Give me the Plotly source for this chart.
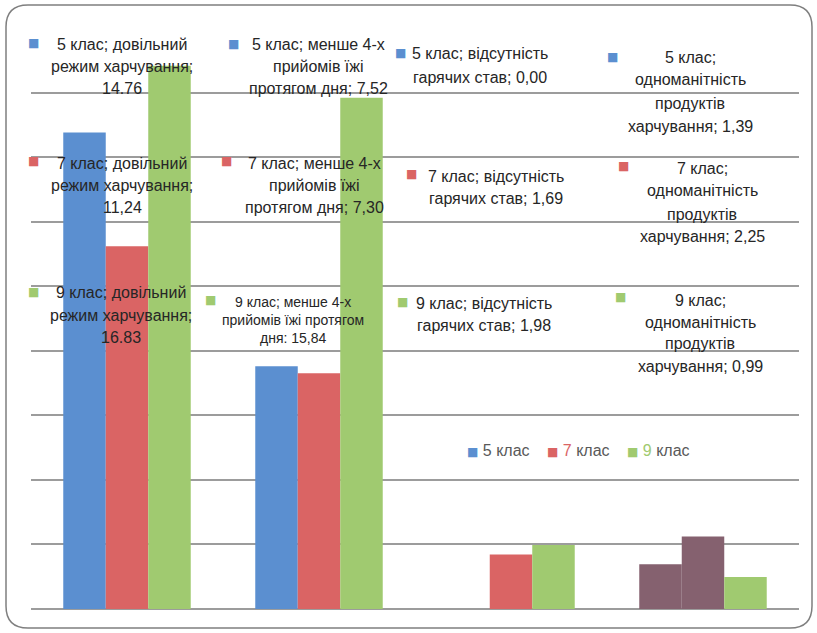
import plotly.graph_objects as go

# ---------------- data ----------------
categories = ["довільний режим харчування",
              "менше 4-х прийомів їжі протягом дня",
              "відсутність гарячих став",
              "одноманітність продуктів харчування"]
series = ["5 клас", "7 клас", "9 клас"]
values_5 = [14.76, 7.52, 0.00, 1.39]
values_7 = [11.24, 7.30, 1.69, 2.25]
values_9 = [16.83, 15.84, 1.98, 0.99]
all_values = [values_5, values_7, values_9]
# decimal separators as printed on the original labels
label_seps = [[".", ",", ",", ","],
              [",", ",", ",", ","],
              [".", ",", ",", ","]]

# ---------------- styling ----------------
W, H = 817, 633
L, R, T, B = 31, 18, 28, 24
PW, PH = W - L - R, H - T - B
colors = ["#5B8FD0", "#DA6464", "#A0CA70"]
odd_color = "#85616F"  # rendering artefact colour in last group
font_family = "Liberation Sans, Arial, sans-serif"


def px(xp):
    return (xp - L) / PW


def py(yp):
    return (H - B - yp) / PH


fig = go.Figure()
for i, (name, vals) in enumerate(zip(series, all_values)):
    cols = [colors[i]] * len(vals)
    if i < 2:
        cols[-1] = odd_color
    fig.add_trace(go.Bar(
        x=categories, y=vals, name=name,
        marker=dict(color=cols, line=dict(width=0)),
        showlegend=False,
    ))

# ---------------- label text layout ----------------
def lines_for(s, c, vtxt):
    if c == 0:
        return [f"{s}; довільний", "режим харчування;", vtxt]
    if c == 1:
        if s == "9 клас":
            return [f"{s}; менше 4-х", "прийомів їжі протягом", f"дня: {vtxt}"]
        return [f"{s}; менше 4-х", "прийомів їжі", f"протягом дня; {vtxt}"]
    if c == 2:
        return [f"{s}; відсутність", f"гарячих став; {vtxt}"]
    return [f"{s};", "одноманітність", "продуктів", f"харчування; {vtxt}"]

# (center x, first line y, line height, square x, square y, font size) per row/col
label_pos = [
    [(122, 44, 22, 33, 43, 16), (318, 44, 22, 233, 44, 16),
     (480, 54, 23, 400, 53, 16), (690, 57, 23, 612, 57, 16)],
    [(122, 163, 22, 33, 161, 16), (314, 163, 22, 226, 161, 16),
     (496, 176, 22, 411, 174, 16), (702, 168, 23, 623, 166, 16)],
    [(121, 293, 22, 33, 292, 16), (293, 302, 18, 210, 300, 14),
     (484, 303, 22, 402, 302, 16), (700, 300, 22, 620, 297, 16)],
]

annotations = []
for r, (s, vals) in enumerate(zip(series, all_values)):
    for c, v in enumerate(vals):
        vtxt = f"{v:.2f}".replace(".", label_seps[r][c])
        cx, y0, lh, sx, sy, fs = label_pos[r][c]
        for k, line in enumerate(lines_for(s, c, vtxt)):
            annotations.append(dict(
                xref="paper", yref="paper", x=px(cx), y=py(y0 + k * lh),
                xanchor="center", yanchor="middle", showarrow=False,
                text=line, font=dict(family=font_family, size=fs, color="#262626")))
        annotations.append(dict(
            xref="paper", yref="paper", x=px(sx), y=py(sy),
            xanchor="center", yanchor="middle", showarrow=False,
            text="■", font=dict(family="DejaVu Sans", size=12, color=colors[r])))

# legend drawn as text (square + series name)
legend_x = [465, 545, 625]
legend_y = 450
for i, s in enumerate(series):
    num, rest = s.split(" ", 1)
    num_col = "#595959" if i == 0 else colors[i]
    annotations.append(dict(
        xref="paper", yref="paper", x=px(legend_x[i]), y=py(legend_y),
        xanchor="left", yanchor="middle", showarrow=False,
        text=(f"<span style='color:{colors[i]};font-family:DejaVu Sans;"
              f"font-size:12px'>■</span> "
              f"<span style='color:{num_col}'>{num}</span> {rest}"),
        font=dict(family=font_family, size=16, color="#595959")))

# rounded outer frame
x0, x1 = px(6), px(812)
y0, y1 = py(628), py(5)
rx, ry = 22 / PW, 22 / PH
path = (f"M {x0+rx},{y1} L {x1-rx},{y1} Q {x1},{y1} {x1},{y1-ry} "
        f"L {x1},{y0+ry} Q {x1},{y0} {x1-rx},{y0} L {x0+rx},{y0} "
        f"Q {x0},{y0} {x0},{y0+ry} L {x0},{y1-ry} Q {x0},{y1} {x0+rx},{y1} Z")

fig.update_layout(
    width=W, height=H,
    margin=dict(l=L, r=R, t=T, b=B),
    paper_bgcolor="white", plot_bgcolor="white",
    barmode="group", bargap=0.336, bargroupgap=0,
    font=dict(family=font_family, size=14, color="#595959"),
    showlegend=False,
    annotations=annotations,
    shapes=[dict(type="path", xref="paper", yref="paper", path=path,
                 line=dict(color="#7f7f7f", width=1.5), layer="below")],
    xaxis=dict(showticklabels=False, showgrid=False, zeroline=False,
               showline=False, ticks=""),
    yaxis=dict(range=[0, 18], dtick=2, showticklabels=False, showgrid=True,
               gridcolor="#9c9c9c", gridwidth=2, zeroline=True,
               zerolinecolor="#9c9c9c", zerolinewidth=2, showline=False,
               ticks=""),
)

fig.write_html("out.html")
